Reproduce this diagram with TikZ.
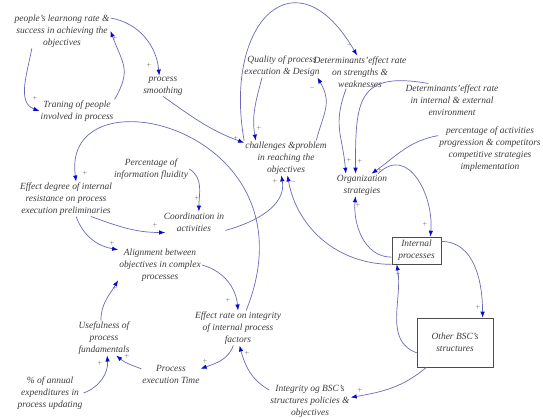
\documentclass[tikz,border=0pt]{standalone}
\usepackage{fontspec}
\setmainfont{Liberation Serif}
\usepackage{tikz}
\usetikzlibrary{arrows.meta}
\definecolor{linkblue}{RGB}{105,105,185}
\definecolor{tipblue}{RGB}{10,10,200}
\definecolor{txtgray}{RGB}{60,60,60}

\begin{document}
\begin{tikzpicture}[x=1bp,y=1bp,
    var/.style={align=center,font=\itshape\fontsize{9.5}{12}\selectfont,text=txtgray,inner sep=1pt},
    box/.style={var,draw=black!70,line width=0.7pt},
    link/.style={draw=linkblue,line width=0.7pt,-{Latex[length=6pt,width=4.5pt,color=tipblue]}},
    sign/.style={font=\fontsize{5}{5}\selectfont,text=txtgray,inner sep=0pt}]
    \useasboundingbox (0,0) rectangle (543,417);
    % variables
    \node[var] (learn) at (62,386) {people's learnong rate \&\\success in achieving the\\objectives};
    \node[var] (smooth) at (163,331) {process\\smoothing};
    \node[var] (train) at (77,306) {Traning of people\\involved in process};
    \node[var] (quality) at (282,351) {Quality of process\\execution \& Design};
    \node[var] (detsw) at (360,345) {Determinants'effect rate\\on strengths \&\\weaknesses};
    \node[var] (detenv) at (452,317) {Determinants'effect rate\\in internal \& external\\environment};
    \node[var] (pct) at (490,267.5) {percentage of activities\\progression \& competitors\\competitive strategies\\implementation};
    \node[var] (chall) at (286,259) {challenges \&problem\\in reaching the\\objectives};
    \node[var] (org) at (362,232) {Organization\\strategies};
    \node[var] (infl) at (151,248) {Percentage of\\information fluidity};
    \node[var] (effres) at (66,218) {Effect degree of internal\\resistance on process\\execution preliminaries};
    \node[var] (coord) at (194,195) {Coordination in\\activities};
    \node[var] (align) at (160,152) {Alignment between\\objectives in complex\\processes};
    \node[var] (effint) at (238,89) {Effect rate on integrity\\of internal process\\factors};
    \node[var] (useful) at (104,79) {Usefulness of\\process\\fundamentals};
    \node[var] (ptime) at (171,43) {Process\\execution Time};
    \node[var] (annual) at (50,24) {\% of annual\\expenditures in\\process updating};
    \node[var] (integ) at (310,16) {Integrity og BSC's\\structures policies \&\\objectives};
    \node[box,minimum width=49bp,minimum height=27bp] (intproc) at (416.5,166.5) {Internal\\processes};
    \node[box,minimum width=76bp,minimum height=49bp] (other) at (455,74.5) {Other BSC's\\structures};

    % links
    \draw[link] (learn.15) to[out=-10,in=95] (smooth.110);
    \draw[link] (train.north east) to[out=60,in=-70,looseness=1.3] (learn.east);
    \draw[link] (learn.-150) to[out=-100,in=160] (train.west);
    \draw[link] (smooth.south) to[out=-35,in=160] (chall.160);
    \draw[link] (quality.-150) to[out=-105,in=100] (chall.150);
    \draw[link] (chall.30) to[out=75,in=-60,looseness=1.2] (quality.-18);
    \draw[link] (chall.north west) to[out=100,in=120,looseness=2.2] (detsw.100);
    \draw[link] (detsw.-130) to[out=-110,in=95,looseness=1.2] (org.145);
    \draw[link] (detenv.145) to[out=170,in=90,looseness=1.6] (org.120);
    \draw[link] (pct.165) to[out=190,in=35] (org.50);
    \draw[link] (org.35) to[out=45,in=85,looseness=1.3] (intproc.45);
    \draw[link] (intproc.-165) to[out=180,in=-95] (org.-120);
    \draw[link] (intproc.south west) to[out=180,in=-80] (chall.-85);
    \draw[link] (coord.-15) to[out=15,in=-80] (chall.-105);
    \draw[link] (infl.east) to[out=-30,in=90] (coord.65);
    \draw[link] (effres.-35) to[out=-20,in=180] (coord.200);
    \draw[link] (effres.-60) to[out=-70,in=170] (align.160);
    \draw[link] (align.east) to[out=-15,in=95] (effint.north);
    \draw[link] (effint.65) .. controls (320,290) and (60,350) .. (effres.60);
    \draw[link] (effint.-105) to[out=-110,in=20] (ptime.10);
    \draw[link] (ptime.170) to[out=160,in=-40] (useful.-55);
    \draw[link] (annual.east) to[out=20,in=-85] (useful.-80);
    \draw[link] (useful.100) to[out=90,in=-120] (align.-160);
    \draw[link] (integ.165) to[out=150,in=-75] (effint.-85);
    \draw[link] (other.-139) to[out=-140,in=10] (integ.5);
    \draw[link] (other.-165) to[out=160,in=-80] (intproc.-145);
    \draw[link] (intproc.20) to[out=0,in=90] (other.42);

    % polarity signs
    \foreach \sx/\sy/\sg [count=\i] in {149/352/+, 115/379/+, 35/319/+, 236/279/+, 259/289/+,
        312/329/-, 349/372/-, 349/257/+, 360/256/+, 380/247/+, 425/193/+, 358/212/+,
        293/235/-, 275/236/+, 197/219/+, 155/192/+, 112/174/+, 228/117/+, 85/244/+,
        205/56/+, 127/61/+, 100/54/+, 115/129/+, 247/64/+, 360/27/+, 398/143/+, 478/110/+}
        \node[sign] (sg\i) at (\sx,\sy) {$\sg$};
\end{tikzpicture}
\end{document}
